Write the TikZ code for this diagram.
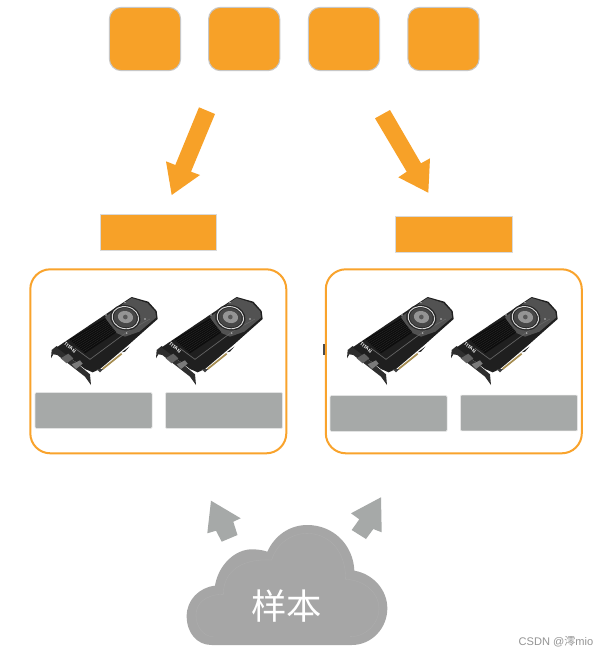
\documentclass[tikz,border=0pt]{standalone}
\usepackage{fontspec}
\setmainfont{Liberation Sans}
\newfontfamily\cjkf{Noto Sans CJK SC}
\definecolor{org}{HTML}{F7A128}
\definecolor{frameorg}{HTML}{F9A32C}
\definecolor{gbox}{HTML}{A6A9A8}
\definecolor{cloudg}{HTML}{A6A6A6}
\tikzset{
 topbox/.style={draw=black!22,line width=.8pt,fill=org,rounded corners=9pt,minimum width=53.5pt,minimum height=47.5pt,inner sep=0pt,outer sep=0pt},
 midbox/.style={draw=black!15,line width=.5pt,fill=org,minimum width=87.5pt,minimum height=26.8pt,inner sep=0pt,outer sep=0pt},
 graybox/.style={draw=black!10,line width=.5pt,fill=gbox,rounded corners=.8pt,minimum width=87.8pt,minimum height=26.8pt,inner sep=0pt,outer sep=0pt},
 frame/.style={draw=frameorg,line width=1.5pt,rounded corners=15pt,minimum width=192pt,minimum height=138pt,inner sep=0pt,outer sep=0pt},
 orgarrow/.style={fill=org,draw=none},
 grayarrow/.style={fill=gbox,draw=none},
}
\newcommand{\gpucard}[2]{%
\begin{scope}[shift={(50+#1,295+#2)},x=.25pt,y=-.25pt]
 % bracket
 \fill[black!82] (3,190) -- (5,165) -- (20,153) -- (120,238) -- (123,270) -- (105,245) -- (22,180) -- (10,178) -- cycle;
 % body
 \fill[black!88] (20,157) -- (228,17) -- (245,6) -- (295,20) -- (320,48) -- (323,72) -- (235,150) -- (150,222) -- (128,232) -- (105,222) -- cycle;
 % top plate
 \fill[black!68] (165,66) -- (228,20) -- (245,9) -- (292,24) -- (316,50) -- (318,68) -- (268,110) -- (225,125) -- (190,110) -- cycle;
 % heat sink
 \fill[black!95] (58,133) -- (165,70) -- (199,112) -- (105,175) -- cycle;
 \foreach \t in {0.1,0.2,...,0.95}
  \draw[black!78,line width=.12pt] ($(58,133)!\t!(105,175)$) -- ($(165,70)!\t!(199,112)$);
 % lower strip
 \draw[black!60,line width=.5pt] (75,160) -- (120,193) -- (235,108) -- (300,72);
 % fan
 \fill[black!85,rotate around={-12:(226,68)}] (226,68) ellipse [x radius=46,y radius=38];
 \draw[black!15,line width=.7pt,rotate around={-12:(226,68)}] (226,68) ellipse [x radius=40,y radius=33];
 \fill[black!72,rotate around={-12:(226,68)}] (226,68) ellipse [x radius=35,y radius=29];
 \fill[black!42,rotate around={-12:(226,68)}] (226,66) ellipse [x radius=23,y radius=18];
 \fill[black!65] (226,66) circle [radius=7];
 % screws
 \foreach \p in {(168,60),(230,114),(285,72),(225,22)}
  \fill[black!25] \p circle [radius=2.5];
 % gold connector
 \draw[color={rgb,255:red,165;green,140;blue,80},line width=1.3pt] (158,222) -- (215,176);
 \fill[black!85] (215,172) -- (238,155) -- (225,170) -- cycle;
 \fill[black!75] (140,222) -- (160,222) -- (150,232) -- cycle;
 % ports
 \fill[black!62] (32,190) -- (55,176) -- (70,190) -- (50,205) -- cycle;
 \fill[black!52] (65,208) -- (90,196) -- (98,206) -- (78,222) -- cycle;
 % label
 \node[rotate=-37,text=white,font=\bfseries\fontsize{3.6}{4}\selectfont,inner sep=0pt] (title#1) at (60,158) {TITAN};
\end{scope}}
\usetikzlibrary{calc}
\begin{document}
\begin{tikzpicture}[x=.75pt,y=-.75pt]
\useasboundingbox (0,0) rectangle (608,658);
\fill[white] (0,0) rectangle (608,658);
% top boxes
\node[topbox] (t1) at (145,39) {};
\node[topbox] (t2) at (244.2,39) {};
\node[topbox] (t3) at (344,39) {};
\node[topbox] (t4) at (443.5,39) {};
% orange arrows
\fill[orgarrow] (199,107.3) -- (215,114) -- (191,171.7) -- (200,175) -- (171.7,195) -- (166,161.3) -- (175.3,165) -- cycle;
\fill[orgarrow] (375,118.3) -- (390,110) -- (421,163.3) -- (430,158.3) -- (428.3,192.7) -- (398.3,177.3) -- (406.7,171.7) -- cycle;
% mid boxes
\node[midbox] (m1) at (158.3,232.2) {};
\node[midbox] (m2) at (453.5,234) {};
% frames
\node[frame] (f1) at (158.3,361.3) {};
\node[frame] (f2) at (453.8,361.3) {};
% cards
\gpucard{0}{0}
\gpucard{105}{0}
\gpucard{296}{0}
\gpucard{400}{0}
\fill[black!70] (322.5,344) rectangle (325,355);
% gray boxes
\node[graybox] (g1) at (93.6,410.5) {};
\node[graybox] (g2) at (224,410.5) {};
\node[graybox] (g3) at (388.6,413.5) {};
\node[graybox] (g4) at (519,413) {};
% gray arrows
\fill[grayarrow] (211,500.7) -- (240.7,518.3) -- (233.3,521.7) -- (237.5,535) -- (221.7,541.7) -- (216,530.7) -- (207.3,533.3) -- cycle;
\fill[grayarrow] (381,497.3) -- (381.7,532.3) -- (373.3,529) -- (366,539) -- (351.7,530) -- (359.3,519.3) -- (351,513.3) -- cycle;
% cloud
\begin{scope}[shift={(170,480)},x=.25pt,y=-.25pt]
 \fill[cloudg] (125,495) .. controls (80,495) and (50,458) .. (50,408)
  .. controls (50,360) and (88,322) .. (135,317)
  .. controls (145,255) and (195,208) .. (245,208)
  .. controls (262,208) and (278,210) .. (292,215)
  .. controls (315,165) and (360,135) .. (412,135)
  .. controls (490,135) and (550,195) .. (553,272)
  .. controls (610,282) and (652,330) .. (652,385)
  .. controls (652,445) and (605,495) .. (545,495) -- cycle;
 \draw[color={rgb,255:red,174;green,174;blue,174},line width=.25pt] (130,470) .. controls (100,470) and (78,440) .. (78,405) .. controls (78,372) and (105,343) .. (160,343) .. controls (160,285) and (200,235) .. (305,240) .. controls (320,190) and (365,160) .. (410,160) .. controls (475,160) and (527,210) .. (527,298) .. controls (585,300) and (627,340) .. (627,385) .. controls (627,430) and (590,470) .. (540,470);
 \node[text=white,font=\cjkf\fontsize{26.5}{28}\selectfont,inner sep=0pt] (cloudtext) at (350,378) {样本};
\end{scope}
% watermark
\node[anchor=east,text=black!42,font=\fontsize{8.3}{10}\selectfont,inner sep=0pt] (wm) at (593.5,642) {CSDN @{\cjkf 澪}mio};
\end{tikzpicture}
\end{document}
